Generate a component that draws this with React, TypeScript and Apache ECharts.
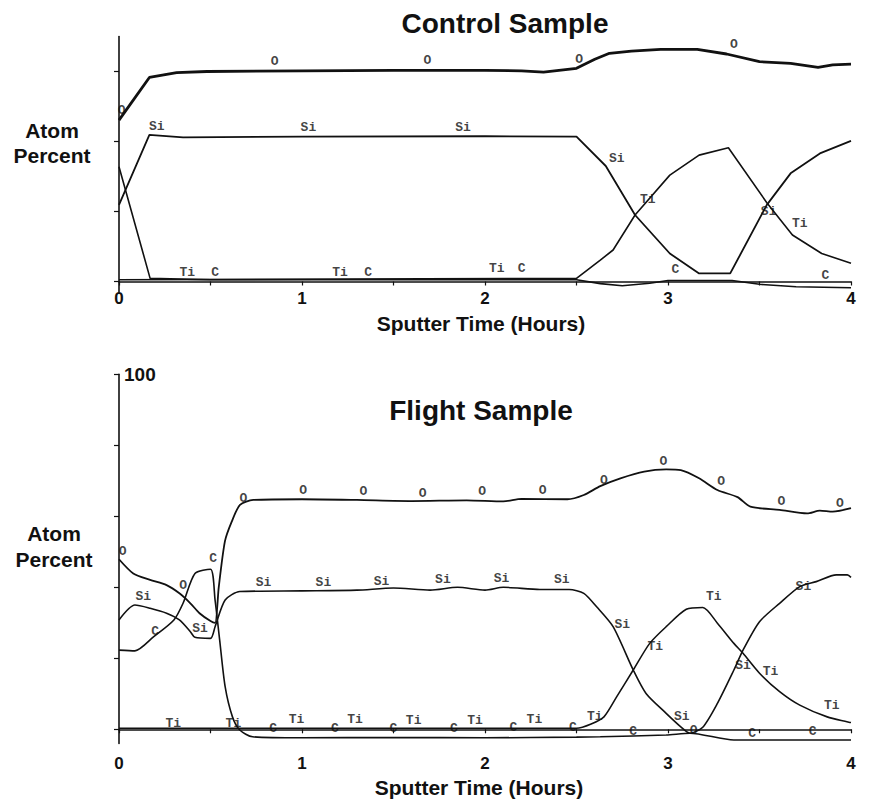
import React, { useEffect, useRef } from "react";
import * as echarts from "echarts";

// ---------- Control sample (top) ----------
const topO = [[0, 46.1], [0.166, 58.3], [0.315, 59.7], [0.48, 60], [1.0, 60.2], [1.5, 60.3], [2.0, 60.3], [2.2, 60.2], [2.32, 59.8], [2.5, 60.9], [2.6, 63.5], [2.68, 65.2], [2.8, 65.8], [2.96, 66.3], [3.16, 66.3], [3.32, 65], [3.5, 62.8], [3.67, 62.3], [3.82, 61.2], [3.9, 61.9], [4.0, 62.1]];
const topSi = [[0, 21.9], [0.166, 41.9], [0.35, 41.2], [1.0, 41.4], [2.0, 41.5], [2.5, 41.4], [2.66, 33], [2.82, 19], [3.01, 8], [3.17, 2.3], [3.34, 2.3], [3.54, 21.9], [3.67, 30.9], [3.83, 36.6], [4.0, 40.2]];
const topTi = [[0, 0.5], [2.5, 0.9], [2.63, 6.1], [2.7, 9], [2.82, 19], [3.01, 30.4], [3.17, 36.1], [3.33, 38.2], [3.54, 22.5], [3.68, 13.3], [3.84, 8], [4.0, 5.2]];
const topC = [[0, 32.8], [0.17, 0.9], [0.5, 0.5], [2.5, 0.5], [2.63, -0.6], [2.75, -1.2], [2.9, -0.5], [3.0, 0.3], [3.35, 0.3], [3.5, -0.8], [3.7, -1.5], [4.0, -1.8]];
const topMarks = [
  [0.015, 49, "O"], [0.85, 62.8, "O"], [1.685, 63.1, "O"], [2.515, 63.5, "O"], [3.36, 67.6, "O"],
  [0.206, 44.2, "Si"], [1.035, 44, "Si"], [1.88, 44, "Si"], [2.72, 35.2, "Si"], [3.55, 19.9, "Si"],
  [2.89, 23.3, "Ti"], [3.72, 16.6, "Ti"],
  [0.373, 2.6, "Ti"], [0.525, 2.6, "C"], [1.208, 2.6, "Ti"], [1.362, 2.6, "C"], [2.064, 3.6, "Ti"], [2.2, 3.6, "C"],
  [3.04, 3.3, "C"], [3.86, 1.6, "C"],
];

// ---------- Flight sample (bottom) ----------
const botO = [[0, 47.9], [0.078, 43.9], [0.17, 42.1], [0.26, 40.6], [0.33, 38.3], [0.39, 35.5], [0.44, 32.7], [0.5, 30.5], [0.525, 30], [0.545, 40], [0.579, 53], [0.616, 58.5], [0.661, 63.2], [0.734, 64.6], [1.0, 64.8], [1.3, 64.6], [1.6, 64.3], [1.9, 64.5], [2.1, 64.2], [2.2, 64.9], [2.45, 64.8], [2.54, 66], [2.63, 68.5], [2.74, 70.7], [2.87, 72.6], [2.99, 73.2], [3.07, 73], [3.17, 70.7], [3.27, 67.4], [3.38, 65.4], [3.45, 62.7], [3.61, 61.8], [3.76, 60.8], [3.83, 61.6], [3.9, 61.3], [4.0, 62.3]];
const botSi = [[0, 30.8], [0.087, 35], [0.17, 34.1], [0.26, 32.7], [0.33, 30.8], [0.39, 27.5], [0.415, 25.9], [0.5, 25.6], [0.525, 28.9], [0.58, 36.4], [0.66, 38.8], [1.0, 39], [1.3, 39.2], [1.5, 39.8], [1.7, 39.2], [1.85, 40], [2.0, 39.2], [2.1, 40], [2.3, 39.4], [2.46, 39.4], [2.54, 38.3], [2.61, 34.5], [2.7, 28.9], [2.81, 16.7], [2.88, 10.1], [2.99, 4.5], [3.07, 0.7], [3.12, -1.1], [3.19, 0.6], [3.27, 7.3], [3.36, 16.7], [3.41, 22.3], [3.5, 30.3], [3.61, 35.5], [3.72, 40.2], [3.81, 41.6], [3.92, 43.5], [3.98, 43.5], [4.0, 42.8]];
const botTi = [[0, 0.3], [1.0, 0.3], [2.5, 0.3], [2.58, 1.5], [2.65, 3.5], [2.72, 9.2], [2.81, 16.7], [2.9, 24.2], [2.99, 28.9], [3.1, 33.8], [3.19, 34.3], [3.27, 29.9], [3.36, 24.2], [3.41, 21.4], [3.5, 15.8], [3.61, 10.6], [3.72, 6.8], [3.87, 3.5], [4.0, 1.9]];
const botC = [[0, 22.3], [0.087, 22.1], [0.19, 26.1], [0.3, 30.8], [0.35, 35.5], [0.415, 43.9], [0.5, 45.1], [0.525, 36.4], [0.55, 25.2], [0.58, 12], [0.62, 3.5], [0.66, -0.2], [0.73, -2.1], [1.0, -2.4], [1.5, -2.3], [2.0, -2.4], [2.5, -2.2], [2.63, -2.1], [2.99, -1.6], [3.12, -1.1], [3.36, -3], [4.0, -3]];
const botMarks = [
  [0.02, 50, "O"], [0.35, 40.5, "O"], [0.68, 65.1, "O"], [1.007, 67.4, "O"], [1.335, 66.9, "O"], [1.66, 66.5, "O"], [1.985, 66.9, "O"], [2.315, 67.4, "O"], [2.65, 70, "O"], [2.975, 75.4, "O"], [3.29, 69.7, "O"], [3.62, 64.1, "O"], [3.94, 63.7, "O"], [3.14, -0.2, "O"],
  [0.133, 37.4, "Si"], [0.443, 28.5, "Si"], [0.79, 41.3, "Si"], [1.117, 41.3, "Si"], [1.435, 41.6, "Si"], [1.77, 42.1, "Si"], [2.09, 42.5, "Si"], [2.42, 42.1, "Si"], [2.75, 29.4, "Si"], [3.41, 18.1, "Si"], [3.74, 40.2, "Si"], [3.075, 3.5, "Si"],
  [0.197, 27.5, "C"], [0.515, 48.2, "C"], [0.843, 0.3, "C"], [1.18, 0.3, "C"], [1.5, 0.3, "C"], [1.83, 0.3, "C"], [2.155, 0.6, "C"], [2.48, 0.6, "C"], [2.81, -0.7, "C"], [3.46, -1.1, "C"], [3.79, -0.7, "C"],
  [0.297, 1.7, "Ti"], [0.625, 1.7, "Ti"], [0.97, 2.8, "Ti"], [1.29, 2.8, "Ti"], [1.61, 2.6, "Ti"], [1.945, 2.6, "Ti"], [2.27, 2.8, "Ti"], [2.6, 3.5, "Ti"], [2.93, 23.3, "Ti"], [3.25, 37.4, "Ti"], [3.56, 16.2, "Ti"], [3.895, 6.6, "Ti"],
];

const xTickLabels = [0, 1, 2, 3, 4];
const topYTicks = [0, 20, 40, 60];
const botYTicks = [0, 20, 40, 60, 80, 100];
const botYLabels = [100];

const FONT = "Liberation Sans";
const MONO = "Liberation Mono";

function lineSeries(data: number[][], idx: number, width: number, smooth: number) {
  return {
    type: "line",
    xAxisIndex: idx,
    yAxisIndex: idx,
    data,
    showSymbol: false,
    symbol: "none",
    smooth,
    lineStyle: { color: "#111", width },
    silent: true,
    z: 2,
  };
}

function markSeries(marks: any[], idx: number) {
  return {
    type: "scatter",
    xAxisIndex: idx,
    yAxisIndex: idx,
    symbolSize: 1,
    itemStyle: { color: "rgba(0,0,0,0)" },
    silent: true,
    z: 5,
    data: marks.map((m) => ({ value: [m[0], m[1]], name: m[2] })),
    label: {
      show: true,
      position: "inside",
      formatter: (p: any) => p.name,
      color: "#111",
      fontFamily: MONO,
      fontWeight: "bold",
      fontSize: 13,
    },
  };
}

function xAxis(idx: number, margin: number) {
  return {
    type: "value",
    gridIndex: idx,
    min: 0,
    max: 4,
    interval: 0.5,
    axisLine: { show: true, onZero: true, lineStyle: { color: "#111", width: 1.6 } },
    axisTick: { show: true, length: 4, lineStyle: { color: "#111", width: 1.2 } },
    axisLabel: {
      color: "#111",
      fontFamily: FONT,
      fontWeight: "bold",
      fontSize: 17,
      margin,
      formatter: (v: number) => (xTickLabels.includes(v) ? String(v) : ""),
    },
    splitLine: { show: false },
  };
}

function buildOption() {
  const textStyle = (t: string, size: number) => ({ text: t, fontFamily: FONT, fontWeight: "bold", fontSize: size, fill: "#111", textAlign: "center", textVerticalAlign: "middle" });
  return {
    animation: false,
    backgroundColor: "#fff",
    grid: [
      { left: 119, right: 21, top: 36.5, height: 255.5 },
      { left: 119, right: 21, top: 374.3, height: 369.2 },
    ],
    xAxis: [xAxis(0, -2.5), xAxis(1, 11.5)],
    yAxis: [
      {
        type: "value", gridIndex: 0, min: -3, max: 70,
        axisLine: { show: true, lineStyle: { color: "#111", width: 1.6 } },
        axisTick: { show: true, length: 5, customValues: topYTicks, lineStyle: { color: "#111", width: 1.2 } },
        axisLabel: { show: false },
        splitLine: { show: false },
      },
      {
        type: "value", gridIndex: 1, min: -4, max: 100,
        axisLine: { show: true, lineStyle: { color: "#111", width: 1.6 } },
        axisTick: { show: true, length: 5, customValues: botYTicks, lineStyle: { color: "#111", width: 1.2 } },
        axisLabel: { show: true, inside: true, margin: 5, customValues: botYLabels, color: "#111", fontFamily: FONT, fontWeight: "bold", fontSize: 19 },
        splitLine: { show: false },
      },
    ],
    graphic: [
      { type: "text", x: 505, y: 23, style: textStyle("Control Sample", 28) },
      { type: "text", x: 481, y: 410, style: textStyle("Flight Sample", 28) },
      { type: "text", x: 52, y: 130, style: textStyle("Atom", 21) },
      { type: "text", x: 52, y: 155, style: textStyle("Percent", 21) },
      { type: "text", x: 54, y: 533, style: textStyle("Atom", 21) },
      { type: "text", x: 54, y: 559, style: textStyle("Percent", 21) },
      { type: "text", x: 481, y: 323, style: textStyle("Sputter Time (Hours)", 21) },
      { type: "text", x: 479, y: 787, style: textStyle("Sputter Time (Hours)", 21) },
    ],
    series: [
      lineSeries(topO, 0, 2.8, 0),
      lineSeries(topSi, 0, 1.8, 0),
      lineSeries(topTi, 0, 1.6, 0),
      lineSeries(topC, 0, 1.6, 0),
      markSeries(topMarks, 0),
      lineSeries(botO, 1, 1.8, 0.25),
      lineSeries(botSi, 1, 1.6, 0.25),
      lineSeries(botTi, 1, 1.6, 0.25),
      lineSeries(botC, 1, 1.6, 0.25),
      markSeries(botMarks, 1),
    ],
  };
}

export default function App() {
  const ref = useRef<HTMLDivElement>(null);
  useEffect(() => {
    const chart = echarts.init(ref.current!, null, { renderer: "svg" });
    chart.setOption(buildOption() as any);
    return () => chart.dispose();
  }, []);
  return (
    <div
      ref={ref}
      style={{ position: "fixed", left: 0, top: 0, width: 872, height: 804, background: "#fff" }}
    />
  );
}
